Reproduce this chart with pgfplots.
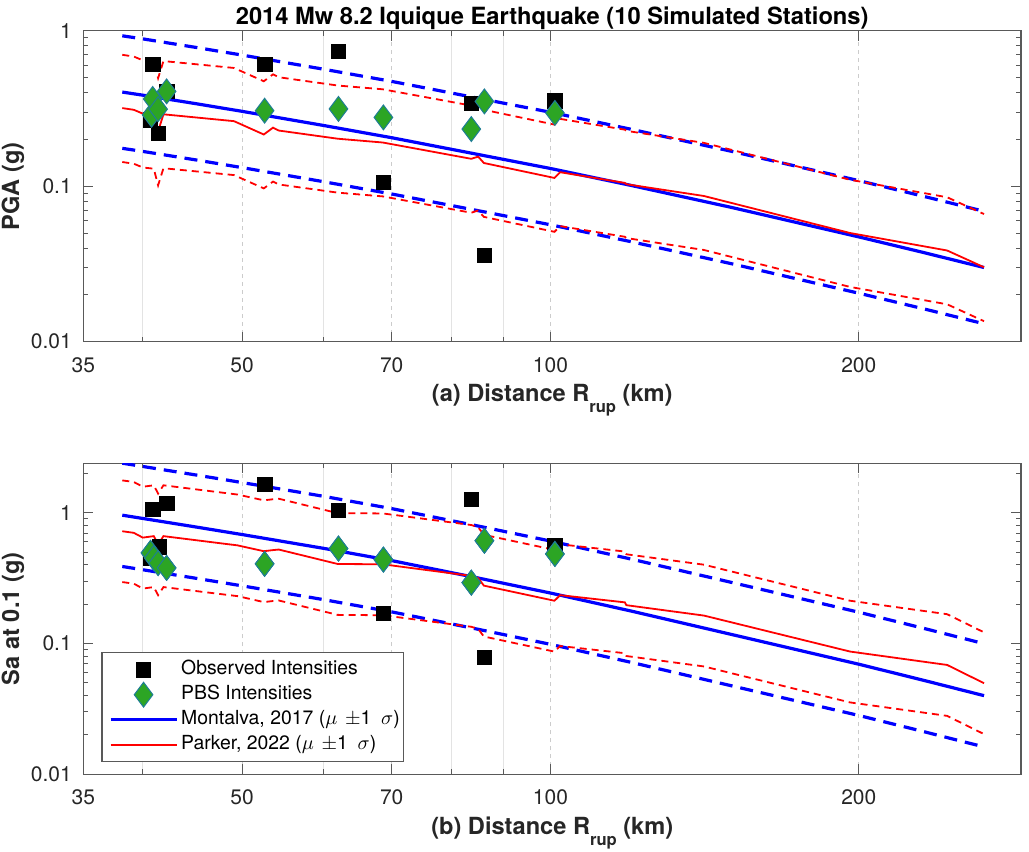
\documentclass[border=0pt]{standalone}
\usepackage{fontspec}
\setmainfont{TeX Gyre Heros}
\usepackage{pgfplots}
\usepackage{pgfplotstable}
\pgfplotsset{compat=1.18}

\definecolor{mblue}{rgb}{0,0,1}
\definecolor{mred}{rgb}{1,0,0}
\definecolor{pbsgreen}{RGB}{44,165,36}
\definecolor{pbsedge}{RGB}{30,125,150}
\definecolor{axgray}{RGB}{38,38,38}

% Montalva 2017 (median, +1 sigma, -1 sigma), PGA
\pgfplotstableread{
x med up lo
38.2 0.403 0.927 0.1752
40 0.385 0.886 0.1674
45 0.340 0.782 0.1478
50 0.303 0.697 0.1317
60 0.246 0.566 0.1070
70 0.205 0.472 0.0891
85 0.160 0.368 0.0696
100 0.130 0.299 0.0565
120 0.101 0.232 0.0439
150 0.0732 0.168 0.0318
200 0.0472 0.1086 0.0205
230 0.0378 0.0869 0.01643
265 0.0300 0.0690 0.01304
}\montA
% Parker 2022, PGA
\pgfplotstableread{
x med up lo
38.2 0.318 0.700 0.1431
39.2 0.310 0.682 0.1395
40.0 0.293 0.645 0.1319
41.0 0.288 0.634 0.1296
41.4 0.225 0.495 0.1013
41.9 0.290 0.638 0.1305
49.1 0.262 0.576 0.1179
52.5 0.215 0.473 0.0968
53.6 0.238 0.524 0.1071
54.3 0.228 0.502 0.1026
62.0 0.202 0.444 0.0909
68.6 0.191 0.420 0.0860
83.7 0.150 0.330 0.0675
85.0 0.155 0.341 0.0698
86.1 0.141 0.310 0.0635
100.9 0.113 0.249 0.0509
102.2 0.123 0.271 0.0554
118.2 0.105 0.231 0.0473
118.6 0.103 0.227 0.0464
141.2 0.0865 0.190 0.0389
196.1 0.0500 0.110 0.0225
243.9 0.0386 0.0849 0.0174
265 0.0301 0.0662 0.01355
}\parkA
% Montalva 2017, Sa(0.1)
\pgfplotstableread{
x med up lo
38.2 0.962 2.405 0.3896
40 0.908 2.27 0.3677
45 0.783 1.958 0.3171
50 0.684 1.71 0.277
60 0.537 1.343 0.2175
70 0.432 1.08 0.175
85 0.318 0.795 0.1288
100 0.244 0.61 0.0988
120 0.1773 0.443 0.0718
150 0.1179 0.295 0.0477
200 0.0696 0.174 0.0282
230 0.0530 0.1325 0.02147
265 0.0400 0.100 0.0162
}\montB
% Parker 2022, Sa(0.1)
\pgfplotstableread{
x med up lo
38.2 0.725 1.776 0.296
39.2 0.705 1.727 0.288
40.0 0.648 1.588 0.264
41.0 0.665 1.629 0.271
41.4 0.575 1.409 0.235
41.9 0.665 1.629 0.271
49.5 0.565 1.384 0.231
52.5 0.510 1.250 0.208
53.6 0.520 1.274 0.212
54.3 0.525 1.286 0.214
62.0 0.407 0.997 0.166
68.6 0.405 0.992 0.165
83.7 0.330 0.809 0.1346
85.0 0.318 0.779 0.1297
86.1 0.278 0.681 0.1134
100.9 0.213 0.522 0.0869
102.2 0.235 0.576 0.0959
118.2 0.207 0.507 0.0845
118.6 0.197 0.483 0.0804
141.2 0.164 0.402 0.0669
196.1 0.087 0.213 0.0355
243.9 0.0687 0.168 0.0280
265 0.0498 0.122 0.0203
}\parkB
% stations
\pgfplotstableread{
x obs
40.7 0.268
40.9 0.61
41.4 0.218
42.2 0.407
52.6 0.61
62.1 0.736
68.7 0.106
83.7 0.340
86.2 0.036
101.0 0.355
}\obsA
\pgfplotstableread{
x pbs
40.8 0.288
40.9 0.364
41.4 0.313
42.2 0.407
52.6 0.306
62.1 0.314
68.7 0.277
83.7 0.233
86.2 0.351
101.0 0.296
}\pbsA
\pgfplotstableread{
x obs
40.7 0.453
40.9 1.07
41.5 0.55
42.2 1.19
52.6 1.66
62.1 1.05
68.7 0.171
83.7 1.27
86.2 0.0788
101.0 0.56
}\obsB
\pgfplotstableread{
x pbs
40.7 0.495
41.0 0.453
41.4 0.414
42.2 0.380
52.6 0.408
62.1 0.534
68.7 0.440
83.7 0.293
86.2 0.613
101.0 0.486
}\pbsB

\begin{document}
\begin{tikzpicture}
\useasboundingbox (0,0) rectangle (514.5pt,426pt);
% ---------- (a) PGA ----------
\begin{axis}[
    scale only axis, width=468.85pt, height=155.5pt,
    at={(41.67pt,255.15pt)}, anchor=south west,
    xmode=log, ymode=log, xmin=35, xmax=288, ymin=0.01, ymax=1,
    xtick={35,50,70,100,200}, xticklabels={35,50,70,100,200},
    minor xtick={40,60,80,90},
    ytick={0.01,0.1,1}, yticklabels={0.01,0.1,1},
    minor ytick={0.02,0.03,0.04,0.05,0.06,0.07,0.08,0.09,0.2,0.3,0.4,0.5,0.6,0.7,0.8,0.9},
    xmajorgrids, xminorgrids,
    major grid style={gray!40, line width=0.4pt, dash pattern=on 2pt off 2pt},
    minor grid style={gray!22, line width=0.4pt},
    tick align=inside,
    major tick length=5pt, minor tick length=2.5pt,
    axis line style={black!65, line width=0.6pt},
    every tick/.style={black!65, line width=0.5pt},
    tick label style={font=\fontsize{10.5}{12}\selectfont, text=axgray},
    xticklabel style={anchor=north, yshift=-4.3pt},
    yticklabel style={anchor=east, xshift=-2.3pt},
    every axis label/.append style={font=\bfseries\fontsize{11.8}{14}\selectfont, text=axgray},
    xlabel style={at={(axis description cs:0.5,-0.193)}, anchor=base},
    ylabel style={at={(axis description cs:-0.075,0.5)}, anchor=center},
    ylabel={PGA (g)},
    xlabel={(a) Distance R\raisebox{-5.5pt}{\fontsize{8.3}{10}\selectfont rup} (km)},
    title={2014 Mw 8.2 Iquique Earthquake (10 Simulated Stations)},
    title style={font=\bfseries\fontsize{11.85}{14}\selectfont, text=black, at={(0.5,1)}, anchor=base, yshift=-3.1pt},
]
\addplot[only marks, mark=square*, mark size=3.6pt, mark options={draw=black, fill=black, line width=0.3pt}] table[x=x, y=obs] {\obsA};
\addplot[mblue, line width=1.6pt] table[x=x, y=med] {\montA};
\addplot[mblue, line width=1.6pt, dash pattern=on 6.5pt off 4pt] table[x=x, y=up] {\montA};
\addplot[mblue, line width=1.6pt, dash pattern=on 6.5pt off 4pt] table[x=x, y=lo] {\montA};
\addplot[mred, line width=0.9pt] table[x=x, y=med] {\parkA};
\addplot[mred, line width=0.9pt, dash pattern=on 3.5pt off 2.5pt] table[x=x, y=up] {\parkA};
\addplot[mred, line width=0.9pt, dash pattern=on 3.5pt off 2.5pt] table[x=x, y=lo] {\parkA};
\addplot[only marks, mark=diamond*, mark size=6.2pt, mark options={draw=pbsedge, fill=pbsgreen, line width=0.5pt}] table[x=x, y=pbs] {\pbsA};
\end{axis}
% ---------- (b) Sa(0.1) ----------
\begin{axis}[
    scale only axis, width=468.85pt, height=155.5pt,
    at={(41.67pt,38.85pt)}, anchor=south west,
    xmode=log, ymode=log, xmin=35, xmax=288, ymin=0.01, ymax=2.4,
    xtick={35,50,70,100,200}, xticklabels={35,50,70,100,200},
    minor xtick={40,60,80,90},
    ytick={0.01,0.1,1}, yticklabels={0.01,0.1,1},
    minor ytick={0.02,0.03,0.04,0.05,0.06,0.07,0.08,0.09,0.2,0.3,0.4,0.5,0.6,0.7,0.8,0.9,2},
    xmajorgrids, xminorgrids,
    major grid style={gray!40, line width=0.4pt, dash pattern=on 2pt off 2pt},
    minor grid style={gray!22, line width=0.4pt},
    tick align=inside,
    major tick length=5pt, minor tick length=2.5pt,
    axis line style={black!65, line width=0.6pt},
    every tick/.style={black!65, line width=0.5pt},
    tick label style={font=\fontsize{10.5}{12}\selectfont, text=axgray},
    xticklabel style={anchor=north, yshift=-4.3pt},
    yticklabel style={anchor=east, xshift=-2.3pt},
    every axis label/.append style={font=\bfseries\fontsize{11.8}{14}\selectfont, text=axgray},
    xlabel style={at={(axis description cs:0.5,-0.193)}, anchor=base},
    ylabel style={at={(axis description cs:-0.075,0.5)}, anchor=center},
    ylabel={Sa at 0.1 (g)},
    xlabel={(b) Distance R\raisebox{-5.5pt}{\fontsize{8.3}{10}\selectfont rup} (km)},
    legend image code/.code={\draw[mark repeat=2,mark phase=2,#1] plot coordinates {(0pt,0pt) (16.5pt,0pt) (33pt,0pt)};},
    legend style={at={(0.0192,0.0386)}, anchor=south west, draw=black!65, line width=0.6pt, fill=white,
      font=\fontsize{9.7}{11}\selectfont, text=black, inner xsep=3.5pt, inner ysep=2.25pt,
      nodes={inner sep=1.5pt, text height=7pt, text depth=2.5pt}},
    legend cell align=left,
]
\addplot[only marks, mark=square*, mark size=3.6pt, mark options={draw=black, fill=black, line width=0.3pt}] table[x=x, y=obs] {\obsB};
\addplot[only marks, mark=diamond*, mark size=6.2pt, mark options={draw=pbsedge, fill=pbsgreen, line width=0.5pt}] table[x=x, y=pbs] {\pbsB};
\addplot[mblue, line width=1.6pt] table[x=x, y=med] {\montB};
\addplot[mred, line width=0.9pt] table[x=x, y=med] {\parkB};
\addplot[mblue, line width=1.6pt, dash pattern=on 6.5pt off 4pt, forget plot] table[x=x, y=up] {\montB};
\addplot[mblue, line width=1.6pt, dash pattern=on 6.5pt off 4pt, forget plot] table[x=x, y=lo] {\montB};
\addplot[mred, line width=0.9pt, dash pattern=on 3.5pt off 2.5pt, forget plot] table[x=x, y=up] {\parkB};
\addplot[mred, line width=0.9pt, dash pattern=on 3.5pt off 2.5pt, forget plot] table[x=x, y=lo] {\parkB};
\addplot[only marks, mark=diamond*, mark size=6.2pt, mark options={draw=pbsedge, fill=pbsgreen, line width=0.5pt}, forget plot] table[x=x, y=pbs] {\pbsB};
\legend{Observed Intensities, PBS Intensities, {\makebox[106pt][l]{Montalva, 2017 ($\mu$\hspace{0.4em}$\pm$1\hspace{0.5em}$\sigma$)}}, {Parker, 2022 ($\mu$\hspace{0.4em}$\pm$1\hspace{0.5em}$\sigma$)}}
\end{axis}
\end{tikzpicture}
\end{document}
